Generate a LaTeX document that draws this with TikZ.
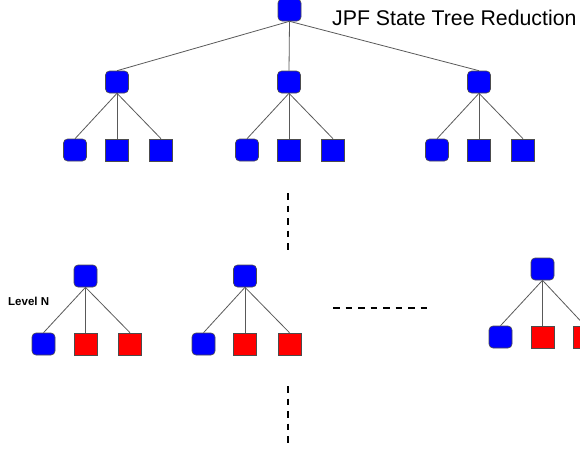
\documentclass[tikz,border=0pt]{standalone}
\usepackage{fontspec}
\setmainfont{Liberation Sans}
\begin{document}
\begin{tikzpicture}[x=1pt,y=-1pt,
  state/.style={draw=black!70,line width=0.6pt,fill=blue,rounded corners=4pt,
    minimum width=23pt,minimum height=22pt,inner sep=0pt},
  bluesq/.style={draw=black!70,line width=0.6pt,fill=blue,
    minimum width=23pt,minimum height=22pt,inner sep=0pt},
  redsq/.style={draw=black!70,line width=0.6pt,fill=red,
    minimum width=23pt,minimum height=22pt,inner sep=0pt},
  edge/.style={draw=black!65,line width=0.8pt},
  gap/.style={draw=black,line width=2pt,dash pattern=on 6.5pt off 6pt}]
\useasboundingbox (0,0) rectangle (580,450);
\begin{scope}
\clip (0,0) rectangle (580,450);

% title
\node[anchor=base west,inner sep=0pt,font=\fontsize{21.3}{21.3}\selectfont] (title) at (332,25) {JPF State Tree Reduction};

% upper tree
\node[state] (r) at (289.5,10) {};
\foreach \n/\x in {a/117,b/289,c/479}{
  \node[state] (\n) at (\x,82) {};
  \node[state] (\n1) at (\x-42,150) {};
  \node[bluesq] (\n2) at (\x,150) {};
  \node[bluesq] (\n3) at (\x+44,150) {};
  \draw[edge] (r.south) -- (\n.north);
  \foreach \k in {1,2,3}{\draw[edge] (\n.south) -- (\n\k.north);}
}

% level N subtrees
\node[anchor=west,inner sep=0pt,font=\bfseries\fontsize{11.5}{11.5}\selectfont] (lvl) at (8,301) {Level N};

\foreach \n/\x/\y/\l/\rr in {p/85.5/276/43.5/130, q/245/276/203.5/289.5, s/542.5/269/500.5/585}{
  \node[state] (\n) at (\x,\y) {};
  \node[state] (\n1) at (\l,\y+68) {};
  \node[redsq] (\n2) at (\x,\y+68) {};
  \node[redsq] (\n3) at (\rr,\y+68) {};
  \foreach \k in {1,2,3}{\draw[edge] (\n.south) -- (\n\k.north);}
}
\end{scope}

% continuation marks
\coordinate (v1a) at (288,193);
\coordinate (v1b) at (288,252);
\coordinate (ha) at (333,308);
\coordinate (hb) at (430,308);
\coordinate (v2a) at (288,386);
\coordinate (v2b) at (288,448);
\draw[gap] (v1a) -- (v1b);
\draw[gap] (ha) -- (hb);
\draw[gap] (v2a) -- (v2b);
\end{tikzpicture}
\end{document}
